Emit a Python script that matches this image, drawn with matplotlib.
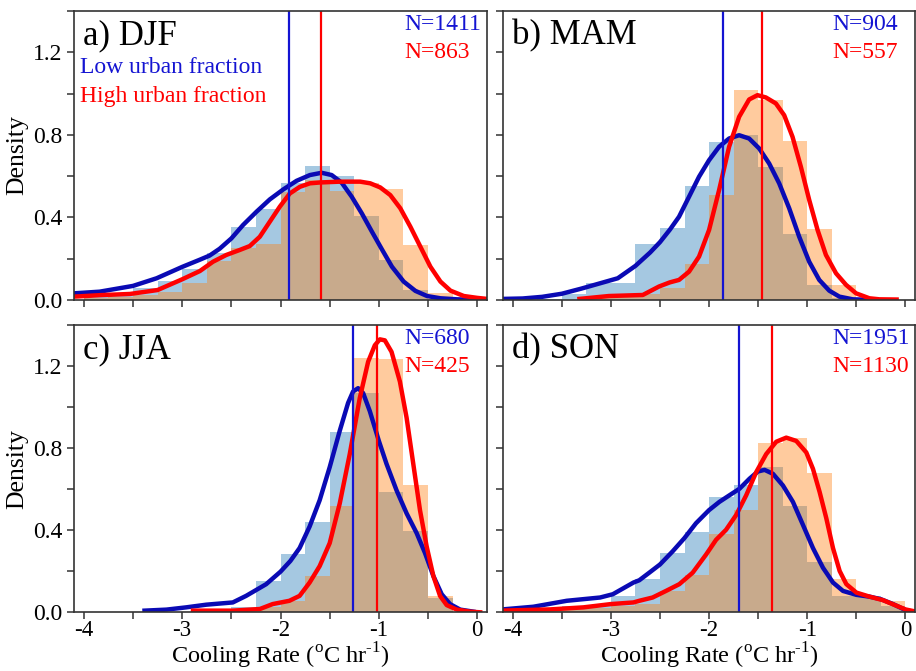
import numpy as np
import matplotlib
matplotlib.use("Agg")
import matplotlib.pyplot as plt
from matplotlib.ticker import MultipleLocator, FixedLocator

plt.rcParams["font.family"] = ["Liberation Serif", "DejaVu Serif"]
plt.rcParams["mathtext.fontset"] = "custom"
plt.rcParams["mathtext.rm"] = "Liberation Serif"
plt.rcParams["axes.unicode_minus"] = False

# histogram bins (left edges, width 0.25)
bin_left = [-4.0, -3.75, -3.5, -3.25, -3.0, -2.75, -2.5, -2.25,
            -2.0, -1.75, -1.5, -1.25, -1.0, -0.75, -0.5, -0.25]
BIN_W = 0.25

seasons = ["a) DJF", "b) MAM", "c) JJA", "d) SON"]
n_low = [1411, 904, 680, 1951]
n_high = [863, 557, 425, 1130]
mean_low = [-1.913, -1.86, -1.261, -1.698]
mean_high = [-1.584, -1.464, -1.016, -1.362]

# histogram densities
djf_low_hist = [0.02, 0.03, 0.06, 0.09, 0.15, 0.226, 0.355, 0.439, 0.568, 0.648, 0.60, 0.406, 0.194, 0.048, 0.005, 0.0]
djf_high_hist = [0.01, 0.015, 0.025, 0.04, 0.08, 0.19, 0.25, 0.27, 0.524, 0.58, 0.529, 0.565, 0.535, 0.266, 0.032, 0.0]
mam_low_hist = [0.0, 0.005, 0.03, 0.084, 0.084, 0.271, 0.35, 0.552, 0.766, 0.80, 0.645, 0.318, 0.073, 0.01, 0.0, 0.0]
mam_high_hist = [0.0, 0.0, 0.0, 0.01, 0.015, 0.03, 0.06, 0.173, 0.508, 1.019, 0.968, 0.769, 0.344, 0.073, 0.0, 0.0]
jja_low_hist = [0.0, 0.0, 0.0, 0.0, 0.0, 0.01, 0.025, 0.153, 0.286, 0.439, 0.879, 1.07, 0.586, 0.398, 0.07, 0.0]
jja_high_hist = [0.0, 0.0, 0.0, 0.0, 0.0, 0.005, 0.01, 0.024, 0.056, 0.177, 0.517, 1.24, 1.232, 0.618, 0.08, 0.0]
son_low_hist = [0.01, 0.02, 0.03, 0.035, 0.08, 0.164, 0.288, 0.39, 0.562, 0.622, 0.71, 0.517, 0.246, 0.077, 0.08, 0.03]
son_high_hist = [0.005, 0.01, 0.015, 0.02, 0.03, 0.04, 0.104, 0.18, 0.38, 0.5, 0.824, 0.851, 0.68, 0.164, 0.075, 0.053]

# kde curves
djf_low_kde_x = [-4.1, -3.84, -3.5, -3.26, -3.0, -2.82, -2.721, -2.619, -2.5, -2.381, -2.245, -2.109,
                 -1.973, -1.837, -1.701, -1.582, -1.48, -1.378, -1.276, -1.173, -1.071, -0.969,
                 -0.867, -0.748, -0.629, -0.51, -0.374, -0.204, 0.0, 0.1]
djf_low_kde_y = [0.032, 0.040, 0.068, 0.105, 0.16, 0.195, 0.215, 0.248, 0.298, 0.363, 0.427, 0.487,
                 0.535, 0.577, 0.605, 0.616, 0.605, 0.568, 0.50, 0.419, 0.331, 0.245,
                 0.161, 0.089, 0.044, 0.019, 0.008, 0.003, 0.0, 0.0]
djf_high_kde_x = [-4.1, -3.84, -3.53, -3.25, -3.0, -2.82, -2.687, -2.551, -2.415, -2.313, -2.211,
                  -2.109, -2.007, -1.905, -1.803, -1.701, -1.599, -1.395, -1.19, -1.088, -0.986,
                  -0.884, -0.782, -0.68, -0.578, -0.476, -0.374, -0.272, -0.136, 0.0, 0.1]
djf_high_kde_y = [0.016, 0.023, 0.029, 0.048, 0.10, 0.14, 0.185, 0.218, 0.242, 0.261, 0.306,
                  0.379, 0.452, 0.516, 0.548, 0.565, 0.569, 0.573, 0.573, 0.565, 0.545,
                  0.508, 0.444, 0.355, 0.258, 0.161, 0.089, 0.045, 0.019, 0.01, 0.005]
mam_low_kde_x = [-4.1, -3.9, -3.7, -3.5, -3.3, -3.1, -2.93, -2.75, -2.6, -2.5, -2.4, -2.306, -2.204,
                 -2.102, -2.0, -1.898, -1.796, -1.694, -1.592, -1.49, -1.388, -1.286, -1.184, -1.082,
                 -0.98, -0.878, -0.776, -0.673, -0.537, -0.3]
mam_low_kde_y = [0.005, 0.007, 0.015, 0.03, 0.055, 0.082, 0.105, 0.165, 0.23, 0.28, 0.34, 0.403, 0.50,
                 0.597, 0.677, 0.742, 0.782, 0.798, 0.782, 0.734, 0.661, 0.565, 0.444, 0.306,
                 0.185, 0.097, 0.045, 0.016, 0.003, 0.0]
mam_high_kde_x = [-3.32, -3.02, -2.675, -2.51, -2.4, -2.306, -2.204, -2.102, -2.0, -1.898, -1.796,
                  -1.694, -1.592, -1.507, -1.422, -1.32, -1.235, -1.15, -1.065, -0.98, -0.895, -0.81,
                  -0.707, -0.605, -0.503, -0.367, -0.265, -0.09]
mam_high_kde_y = [0.005, 0.019, 0.024, 0.065, 0.085, 0.097, 0.137, 0.21, 0.339, 0.532, 0.742,
                  0.887, 0.971, 0.992, 0.981, 0.952, 0.895, 0.79, 0.645, 0.484, 0.339, 0.218,
                  0.129, 0.073, 0.032, 0.008, 0.003, 0.002]
jja_low_kde_x = [-3.383, -3.16, -2.96, -2.756, -2.485, -2.35, -2.146, -2.0, -1.9, -1.806, -1.704,
                 -1.602, -1.5, -1.398, -1.313, -1.262, -1.211, -1.16, -1.092, -1.0, -0.922, -0.82,
                 -0.718, -0.616, -0.531, -0.446, -0.361, -0.276, -0.173, -0.037]
jja_low_kde_y = [0.008, 0.013, 0.024, 0.037, 0.048, 0.08, 0.137, 0.198, 0.25, 0.313, 0.418,
                 0.546, 0.707, 0.884, 1.02, 1.076, 1.092, 1.068, 0.98, 0.835, 0.723, 0.594,
                 0.482, 0.386, 0.289, 0.177, 0.088, 0.04, 0.013, 0.003]
jja_high_kde_x = [-2.89, -2.485, -2.21, -2.08, -1.91, -1.806, -1.704, -1.602, -1.5, -1.398, -1.296,
                  -1.194, -1.109, -1.041, -0.99, -0.939, -0.871, -0.786, -0.718, -0.65, -0.582,
                  -0.514, -0.446, -0.378, -0.31, -0.207, -0.071, 0.03]
jja_high_kde_y = [0.008, 0.008, 0.016, 0.04, 0.056, 0.08, 0.145, 0.225, 0.337, 0.53, 0.771,
                  1.044, 1.221, 1.301, 1.33, 1.325, 1.269, 1.124, 0.948, 0.723, 0.498,
                  0.321, 0.177, 0.08, 0.035, 0.013, 0.003, 0.0]
son_low_kde_x = [-4.13, -3.79, -3.45, -3.11, -2.98, -2.77, -2.711, -2.609, -2.5, -2.371, -2.252,
                 -2.133, -2.0, -1.895, -1.793, -1.69, -1.588, -1.503, -1.435, -1.35, -1.248, -1.146,
                 -1.044, -0.942, -0.84, -0.738, -0.636, -0.5, -0.364, -0.252, -0.126, 0.0, 0.1]
son_low_kde_y = [0.013, 0.027, 0.056, 0.072, 0.088, 0.145, 0.156, 0.193, 0.233, 0.297, 0.361,
                 0.434, 0.498, 0.538, 0.57, 0.602, 0.651, 0.686, 0.694, 0.675, 0.618, 0.538,
                 0.426, 0.313, 0.217, 0.145, 0.104, 0.085, 0.076, 0.064, 0.04, 0.011, 0.0]
son_high_kde_x = [-4.13, -3.62, -3.28, -3.0, -2.77, -2.711, -2.575, -2.439, -2.303, -2.167, -2.031,
                  -1.929, -1.827, -1.724, -1.622, -1.52, -1.418, -1.316, -1.214, -1.112, -1.01,
                  -0.942, -0.874, -0.806, -0.738, -0.67, -0.602, -0.5, -0.364, -0.228, -0.092,
                  0.0, 0.1]
son_high_kde_y = [0.008, 0.014, 0.024, 0.04, 0.048, 0.056, 0.072, 0.104, 0.137, 0.193, 0.281,
                  0.353, 0.402, 0.474, 0.57, 0.683, 0.771, 0.831, 0.851, 0.835, 0.779,
                  0.699, 0.586, 0.458, 0.313, 0.201, 0.137, 0.096, 0.076, 0.059, 0.032,
                  0.014, 0.004]

low_hists = [djf_low_hist, mam_low_hist, jja_low_hist, son_low_hist]
high_hists = [djf_high_hist, mam_high_hist, jja_high_hist, son_high_hist]
low_kdes = [(djf_low_kde_x, djf_low_kde_y), (mam_low_kde_x, mam_low_kde_y),
            (jja_low_kde_x, jja_low_kde_y), (son_low_kde_x, son_low_kde_y)]
high_kdes = [(djf_high_kde_x, djf_high_kde_y), (mam_high_kde_x, mam_high_kde_y),
             (jja_high_kde_x, jja_high_kde_y), (son_high_kde_x, son_high_kde_y)]

fig = plt.figure(figsize=(9.16, 6.71), dpi=100)
positions = [[0.0808, 0.553, 0.4509, 0.4307], [0.549, 0.553, 0.4502, 0.4307],
             [0.0808, 0.0875, 0.4509, 0.4282], [0.549, 0.0875, 0.4502, 0.4282]]

for i in range(4):
    ax = fig.add_axes(positions[i])
    ax.bar(bin_left, low_hists[i], width=BIN_W, align="edge", color="tab:blue", alpha=0.4, linewidth=0)
    ax.bar(bin_left, high_hists[i], width=BIN_W, align="edge", color="tab:orange", alpha=0.4, linewidth=0)
    ax.plot(low_kdes[i][0], low_kdes[i][1], color="#0a0ab4", lw=3.2, solid_joinstyle="round")
    ax.plot(high_kdes[i][0], high_kdes[i][1], color="#ff0000", lw=3.2, solid_joinstyle="round")
    ax.axvline(mean_low[i], color="#1414d2", lw=1.6)
    ax.axvline(mean_high[i], color="#ff0000", lw=1.6)

    ax.set_xlim(-4.1, 0.1)
    ax.set_ylim(0, 1.4)
    ax.xaxis.set_major_locator(FixedLocator([-4, -3, -2, -1, 0]))
    ax.xaxis.set_minor_locator(MultipleLocator(0.5))
    ax.yaxis.set_major_locator(FixedLocator([0.0, 0.4, 0.8, 1.2]))
    ax.yaxis.set_minor_locator(MultipleLocator(0.2))
    ax.tick_params(which="both", direction="out", length=5, width=1.1, color="#333333", labelsize=17)
    ax.tick_params(axis="x", pad=0.5, labelsize=16.5)
    for s in ax.spines.values():
        s.set_color("#333333")
        s.set_linewidth(1.2)

    if i < 2:
        ax.set_xticklabels([])
    else:
        ax.set_xticklabels(["-4", "-3", "-2", "-1", "0"])
        ax.set_xlabel(r"Cooling Rate ($^{\text{o}}$C hr$^{\text{-1}}$)", fontsize=17.5, labelpad=0)
    if i % 2 == 1:
        ax.set_yticklabels([])
    else:
        ax.set_yticklabels(["0.0", "0.4", "0.8", "1.2"])
        ax.set_ylabel("Density", fontsize=18.5, labelpad=3)

    ax.text(0.022, 0.915, seasons[i], transform=ax.transAxes, fontsize=25, va="center", ha="left")
    ax.text(0.80, 0.953, "N=%d" % n_low[i], transform=ax.transAxes, fontsize=17,
            color="#1414d2", va="center", ha="left")
    ax.text(0.80, 0.857, "N=%d" % n_high[i], transform=ax.transAxes, fontsize=17,
            color="#ff0000", va="center", ha="left")
    if i == 0:
        ax.text(0.015, 0.805, "Low urban fraction", transform=ax.transAxes, fontsize=17,
                color="#1414d2", va="center", ha="left")
        ax.text(0.015, 0.705, "High urban fraction", transform=ax.transAxes, fontsize=17,
                color="#ff0000", va="center", ha="left")

fig.savefig("out.png", dpi=100)
